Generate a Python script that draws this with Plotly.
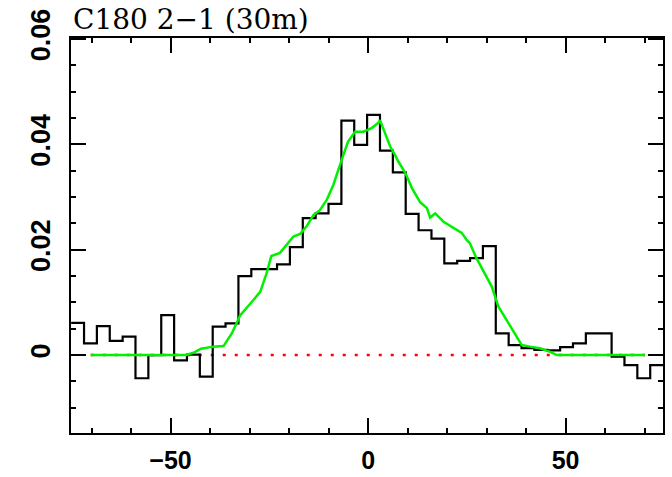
import plotly.graph_objects as go

# Channel centres (km/s) of the observed spectrum
velocity = [-73.53, -70.27, -67.02, -63.76, -60.50, -57.25, -53.99, -50.73,
            -47.47, -44.22, -40.96, -37.70, -34.45, -31.19, -27.93, -24.68,
            -21.42, -18.16, -14.90, -11.65, -8.39, -5.13, -1.88, 1.38,
            4.64, 7.90, 11.15, 14.41, 17.67, 20.92, 24.18, 27.44,
            30.69, 33.95, 37.21, 40.47, 43.72, 46.98, 50.24, 53.49,
            56.75, 60.01, 63.27, 66.52, 69.78, 73.04]
channel_width = 3.257

# Observed intensity per channel
intensity = [0.0061, 0.0022, 0.0055, 0.0027, 0.0035, -0.0044, 0.0000, 0.0076,
             -0.0010, 0.0001, -0.0041, 0.0054, 0.0060, 0.0150, 0.0163, 0.0163,
             0.0172, 0.0205, 0.0260, 0.0269, 0.0287, 0.0445, 0.0399, 0.0456,
             0.0388, 0.0347, 0.0268, 0.0237, 0.0221, 0.0174, 0.0179, 0.0184,
             0.0207, 0.0041, 0.0019, 0.0013, 0.0010, 0.0009, 0.0015, 0.0022,
             0.0041, 0.0041, -0.0003, -0.0019, -0.0044, -0.0019]

# Model profile
model_velocity = [-70.2, -46.0, -44.0, -42.3, -39.2, -36.6, -34.5, -32.4,
                  -29.9, -27.3, -25.7, -24.5, -22.3, -20.6, -18.9, -17.2,
                  -15.5, -13.8, -12.2, -10.5, -8.8, -6.7, -5.1, -3.3,
                  -1.2, 0.9, 2.6, 3.0, 4.3, 5.6, 6.8, 7.7,
                  9.4, 11.1, 13.2, 14.9, 15.7, 17.0, 19.1, 21.6,
                  23.7, 25.0, 25.8, 27.3, 29.2, 31.3, 33.0, 35.1,
                  37.2, 38.9, 41.0, 43.5, 46.1, 47.8, 70.1]
model_intensity = [0.0, 0.0, 0.0005, 0.0012, 0.0016, 0.0017, 0.0041, 0.0075,
                   0.0097, 0.0120, 0.0155, 0.0188, 0.0194, 0.0210, 0.0225, 0.0230,
                   0.0245, 0.0266, 0.0275, 0.0294, 0.0323, 0.0370, 0.0405, 0.0424,
                   0.0424, 0.0431, 0.0441, 0.0446, 0.0421, 0.0396, 0.0380, 0.0367,
                   0.0346, 0.0317, 0.0290, 0.0279, 0.0261, 0.0269, 0.0253, 0.0241,
                   0.0232, 0.0218, 0.0212, 0.0186, 0.0158, 0.0130, 0.0092, 0.0066,
                   0.0038, 0.0019, 0.0016, 0.0013, 0.0006, 0.0, 0.0]

title_text = "C180 2\u22121 (30m)"
x_ticks = [-50, 0, 50]
y_ticks = [0, 0.02, 0.04, 0.06]
y_tick_text = ["0", "0.02", "0.04", "0.06"]

# Histogram-style step: left edges of each channel plus the final right edge
edges = [v - channel_width / 2 for v in velocity] + [velocity[-1] + channel_width / 2]
step_y = intensity + [intensity[-1]]

fig = go.Figure()

fig.add_trace(go.Scatter(
    x=[model_velocity[0], model_velocity[-1]], y=[0, 0],
    mode="lines", line=dict(color="#ff0000", width=2.5, dash="3px,9px"),
    hoverinfo="skip"))

fig.add_trace(go.Scatter(
    x=edges, y=step_y, mode="lines", line_shape="hv",
    line=dict(color="black", width=2.2)))

fig.add_trace(go.Scatter(
    x=model_velocity, y=model_intensity, mode="lines",
    line=dict(color="#00f000", width=2.5)))

x_tick_font = dict(family="Liberation Sans", size=25, color="black", weight="bold")
y_tick_font = dict(family="Liberation Sans", size=27, color="black", weight="bold")

fig.update_layout(
    width=672, height=477,
    margin=dict(l=71, r=9, t=38, b=44, autoexpand=False),
    paper_bgcolor="white", plot_bgcolor="white",
    showlegend=False,
    xaxis=dict(
        range=[-75.2, 74.65], tickvals=x_ticks, ticks="inside", ticklen=15,
        tickwidth=2, tickcolor="black", showline=True, linewidth=2,
        linecolor="black", mirror="ticks", showgrid=False, zeroline=False,
        tickfont=x_tick_font, ticklabelstandoff=4, automargin=False,
        minor=dict(dtick=10, tick0=0, ticks="inside", ticklen=5,
                   tickwidth=2, tickcolor="black", showgrid=False),
    ),
    yaxis=dict(
        range=[-0.0148, 0.0602], tickvals=y_ticks, ticktext=y_tick_text,
        ticks="inside", ticklen=15, tickwidth=2, tickcolor="black",
        showline=True, linewidth=2, linecolor="black", mirror="ticks",
        showgrid=False, zeroline=False, tickangle=-90,
        tickfont=y_tick_font, ticklabelstandoff=8, automargin=False,
        minor=dict(dtick=0.005, tick0=0, ticks="inside", ticklen=5,
                   tickwidth=2, tickcolor="black", showgrid=False),
    ),
    annotations=[dict(
        text=title_text, xref="paper", yref="paper", x=0, y=1,
        xanchor="left", yanchor="bottom", showarrow=False,
        font=dict(family="DejaVu Serif", size=28, color="black"),
    )],
)

fig.write_html("out.html")
